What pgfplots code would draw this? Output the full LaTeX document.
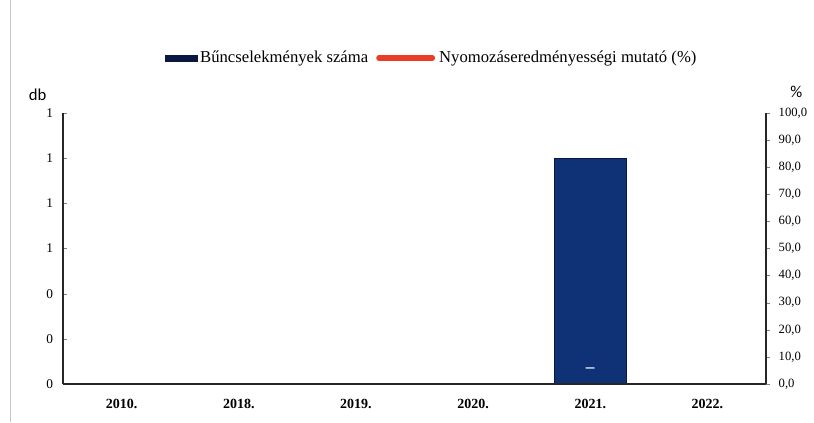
\documentclass[border=0pt]{standalone}
\usepackage{fontspec}
\setmainfont{Liberation Serif}
\newfontfamily\labelfont{Carlito}
\usepackage{pgfplots}
\pgfplotsset{compat=1.18}
\definecolor{navy}{RGB}{15,50,118}
\definecolor{navyedge}{RGB}{8,24,62}
\definecolor{legred}{RGB}{232,62,40}

\begin{document}
\begin{tikzpicture}
% left axis: number of crimes (db)
\begin{axis}[
  name=main,
  scale only axis,
  width=527.25pt, height=203.25pt,
  xmin=-0.5, xmax=5.5,
  ymin=0, ymax=1.2,
  axis on top,
  axis x line*=bottom, axis y line*=left,
  axis line style={black!85, line width=0.9pt},
  xtick={0,...,5},
  xticklabels={2010.,2018.,2019.,2020.,2021.,2022.},
  x tick label style={font=\fontsize{10.5}{12}\selectfont\bfseries, yshift=-5pt},
  major x tick style={draw=none},
  ytick={0,0.2,0.4,0.6,0.8,1,1.2},
  yticklabel={\pgfmathprintnumber[fixed,precision=0]{\tick}},
  y tick label style={font=\fontsize{10}{12}\selectfont, xshift=-4pt},
  tick align=inside, major tick length=3pt,
  /pgf/number format/assume math mode=true,
  ylabel={db},
  ylabel style={rotate=-90, at={(axis description cs:-0.036,1.066)}, anchor=center, font=\labelfont\fontsize{12.5}{14}\selectfont},
  ybar, bar width=54pt,
]
\addplot[fill=navy, draw=navyedge, line width=0.6pt] coordinates {(0,0) (1,0) (2,0) (3,0) (4,1) (5,0)};
\end{axis}
% right axis: detection rate (%)
\begin{axis}[
  scale only axis,
  width=527.25pt, height=203.25pt,
  xmin=-0.5, xmax=5.5,
  ymin=0, ymax=100,
  axis x line=none, axis y line*=right,
  axis line style={black!85, line width=0.9pt},
  ytick={0,10,...,100},
  y tick label style={/pgf/number format/fixed, /pgf/number format/fixed zerofill,
    /pgf/number format/precision=1, /pgf/number format/use comma,
    font=\fontsize{9.5}{12}\selectfont, xshift=3pt},
  tick align=outside, major tick length=3pt,
  /pgf/number format/assume math mode=true,
  ylabel={\%},
  ylabel style={rotate=-90, at={(axis description cs:1.043,1.077)}, anchor=center, font=\labelfont\fontsize{12.5}{14}\selectfont},
  legend columns=2,
  legend style={at={(axis description cs:0.525,1)}, anchor=center, yshift=41.25pt,
    draw=none, fill=none, font=\fontsize{12.5}{14}\selectfont,
    /tikz/every even column/.style={column sep=4pt}},
  legend cell align=left,
]
\addlegendimage{legend image code/.code={\fill[navyedge] (-4pt,-2.4pt) rectangle (20pt,2.4pt);}}
\addlegendentry{Bűncselekmények száma}
\addlegendimage{legend image code/.code={\draw[legred, line width=4.2pt, line cap=round] (-4pt,0pt) -- (36pt,0pt);}}
\addlegendentry{\hspace{1pt}Nyomozáseredményességi mutató (\%)}
\addplot[draw=none, forget plot, nodes near coords={\textbf{--}},
  every node near coord/.append style={anchor=center, yshift=10pt, text=white, font=\fontsize{13}{14}\selectfont}]
  coordinates {(4,0)};
\end{axis}
\draw[gray!45, line width=0.5pt] ([xshift=-39.75pt,yshift=-28.5pt]main.south west) -- ([xshift=-39.75pt,yshift=84.75pt]main.north west);
\pgfresetboundingbox
\path[use as bounding box] ([xshift=-47.25pt,yshift=-28.5pt]main.south west) rectangle ([xshift=36pt,yshift=84.75pt]main.north east);
\end{tikzpicture}
\end{document}
